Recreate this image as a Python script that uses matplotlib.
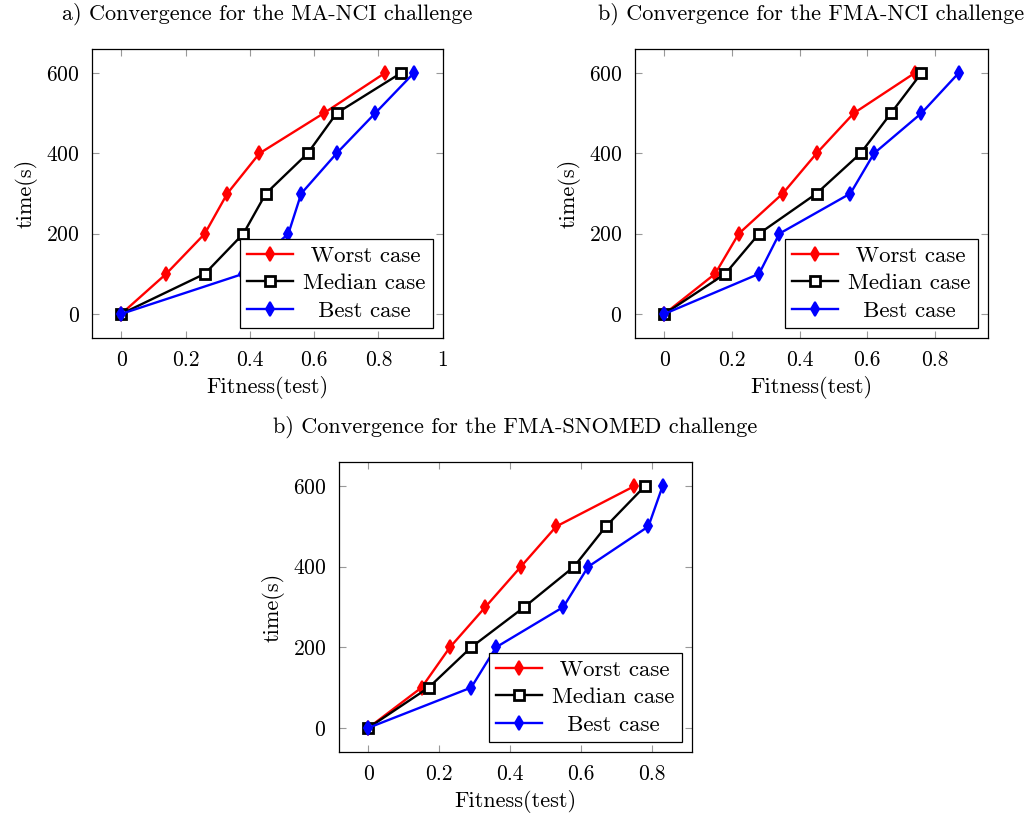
import matplotlib
matplotlib.use('Agg')
import matplotlib.pyplot as plt

plt.rcParams['font.family'] = ['cmr10', 'DejaVu Serif']
plt.rcParams['mathtext.fontset'] = 'cm'
plt.rcParams['axes.formatter.use_mathtext'] = True

time_s = [0, 100, 200, 300, 400, 500, 600]

# a) MA-NCI
ma_worst = [0, 0.14, 0.26, 0.33, 0.43, 0.63, 0.82]
ma_median = [0, 0.26, 0.38, 0.45, 0.58, 0.67, 0.87]
ma_best = [0, 0.38, 0.52, 0.56, 0.67, 0.79, 0.91]

# b) FMA-NCI
fn_worst = [0, 0.15, 0.22, 0.35, 0.45, 0.56, 0.74]
fn_median = [0, 0.18, 0.28, 0.45, 0.58, 0.67, 0.76]
fn_best = [0, 0.28, 0.34, 0.55, 0.62, 0.76, 0.87]

# b) FMA-SNOMED
fs_worst = [0, 0.15, 0.23, 0.33, 0.43, 0.53, 0.75]
fs_median = [0, 0.17, 0.29, 0.44, 0.58, 0.67, 0.78]
fs_best = [0, 0.29, 0.36, 0.55, 0.62, 0.79, 0.83]

titles = ['a) Convergence for the MA-NCI challenge',
          'b) Convergence for the FMA-NCI challenge',
          'b) Convergence for the FMA-SNOMED challenge']
xticks_list = [[0, 0.2, 0.4, 0.6, 0.8, 1], [0, 0.2, 0.4, 0.6, 0.8], [0, 0.2, 0.4, 0.6, 0.8]]
xtick_labels = [['0', '0.2', '0.4', '0.6', '0.8', '1'],
                ['0', '0.2', '0.4', '0.6', '0.8'],
                ['0', '0.2', '0.4', '0.6', '0.8']]
data = [(ma_worst, ma_median, ma_best),
        (fn_worst, fn_median, fn_best),
        (fs_worst, fs_median, fs_best)]

# legend text is centred in the reference, leading spaces fake that
series_labels = [' Worst case', 'Median case', '  Best case']

W, H = 1036, 817
fig = plt.figure(figsize=(W / 100, H / 100), dpi=100)

# axes boxes in pixels: left, top, right, bottom
boxes = [(92, 49, 443, 338), (635, 49, 988, 338), (339, 462, 692, 752)]

def px_axes(b):
    l, t, r, bt = b
    return fig.add_axes([l / W, 1 - bt / H, (r - l) / W, (bt - t) / H])

for i, box in enumerate(boxes):
    ax = px_axes(box)
    worst, median, best = data[i]
    ax.plot(worst, time_s, color='red', lw=1.7, marker='d', ms=7.5,
            mfc='red', mec='red', mew=1.4, label=series_labels[0])
    ax.plot(median, time_s, color='black', lw=1.7, marker='s', ms=7,
            mfc='white', mec='black', mew=2.0, label=series_labels[1])
    ax.plot(best, time_s, color='blue', lw=1.7, marker='d', ms=7.5,
            mfc='blue', mec='blue', mew=1.4, label=series_labels[2])

    xmax = max(max(worst), max(median), max(best))
    ax.set_xlim(-0.1 * xmax, 1.1 * xmax)
    ax.set_ylim(-60, 660)
    ax.set_xticks(xticks_list[i])
    ax.set_xticklabels(xtick_labels[i])
    ax.set_yticks([0, 200, 400, 600])
    ax.tick_params(direction='in', length=5, width=0.8, color='#999999',
                   labelsize=15.5, top=True, right=True, pad=9)
    for s in ax.spines.values():
        s.set_linewidth(0.9)
    ax.set_xlabel('Fitness(test)', fontsize=16, labelpad=4)
    ax.set_ylabel('time(s)', fontsize=16, labelpad=6)
    ax.set_title(titles[i], fontsize=16, pad=21)
    leg = ax.legend(loc='lower right', fontsize=16.5, fancybox=False,
                    framealpha=1, edgecolor='black', borderaxespad=0.45,
                    handlelength=2.0, borderpad=0.3, labelspacing=0.32,
                    handletextpad=0.45)
    leg.get_frame().set_linewidth(0.9)

fig.savefig('out.png', dpi=100)
